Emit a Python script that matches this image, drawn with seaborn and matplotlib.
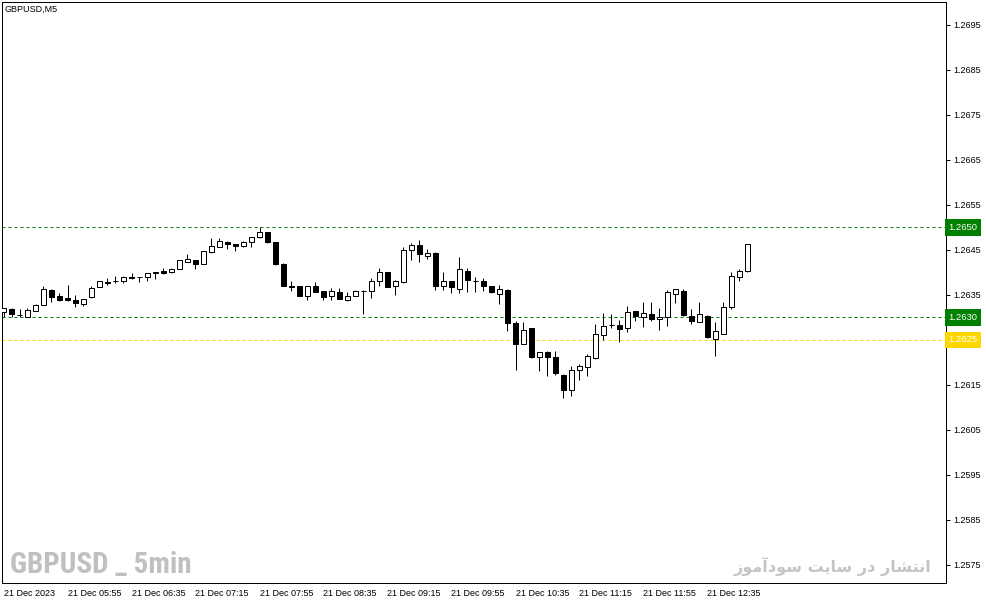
import matplotlib
matplotlib.use("Agg")
import pandas as pd
import seaborn as sns
from matplotlib import pyplot as plt

# GBPUSD M5 candles, 21 Dec 2023 05:15 -> 13:00
opens = [1.26312, 1.26319, 1.26306, 1.26301, 1.26315, 1.26327, 1.26361, 1.26347, 1.26343, 1.26339,
         1.26330, 1.26346, 1.26367, 1.26379, 1.26381, 1.26380, 1.26389, 1.26390, 1.26389, 1.26399,
         1.26404, 1.26400, 1.26407, 1.26424, 1.26427, 1.26419, 1.26446, 1.26456, 1.26467, 1.26464,
         1.26459, 1.26467, 1.26478, 1.26489, 1.26467, 1.26419, 1.26369, 1.26369, 1.26348, 1.26370,
         1.26359, 1.26347, 1.26356, 1.26339, 1.26347, 1.26359, 1.26359, 1.26381, 1.26400, 1.26371,
         1.26379, 1.26449, 1.26462, 1.26437, 1.26444, 1.26371, 1.26380, 1.26364, 1.26404, 1.26382,
         1.26380, 1.26369, 1.26353, 1.26362, 1.26287, 1.26242, 1.26276, 1.26213, 1.26224, 1.26212,
         1.26172, 1.26138, 1.26184, 1.26191, 1.26210, 1.26260, 1.26284, 1.26284, 1.26276, 1.26314,
         1.26301, 1.26307, 1.26296, 1.26301, 1.26353, 1.26358, 1.26304, 1.26290, 1.26304, 1.26253,
         1.26264, 1.26324, 1.26390, 1.26404]
highs = [1.26322, 1.26321, 1.26318, 1.26320, 1.26330, 1.26371, 1.26363, 1.26354, 1.26372, 1.26351,
         1.26342, 1.26369, 1.26380, 1.26387, 1.26392, 1.26393, 1.26399, 1.26390, 1.26398, 1.26401,
         1.26409, 1.26410, 1.26427, 1.26441, 1.26427, 1.26447, 1.26476, 1.26476, 1.26470, 1.26464,
         1.26470, 1.26479, 1.26501, 1.26490, 1.26468, 1.26421, 1.26380, 1.26370, 1.26371, 1.26379,
         1.26359, 1.26366, 1.26366, 1.26356, 1.26362, 1.26361, 1.26387, 1.26411, 1.26401, 1.26383,
         1.26456, 1.26466, 1.26472, 1.26453, 1.26445, 1.26400, 1.26381, 1.26434, 1.26410, 1.26389,
         1.26387, 1.26371, 1.26373, 1.26363, 1.26293, 1.26289, 1.26277, 1.26224, 1.26225, 1.26225,
         1.26174, 1.26192, 1.26196, 1.26218, 1.26285, 1.26309, 1.26307, 1.26294, 1.26325, 1.26315,
         1.26334, 1.26334, 1.26320, 1.26361, 1.26364, 1.26364, 1.26318, 1.26334, 1.26305, 1.26289,
         1.26334, 1.26400, 1.26407, 1.26464]
lows = [1.26300, 1.26301, 1.26301, 1.26301, 1.26314, 1.26327, 1.26335, 1.26336, 1.26337, 1.26324,
        1.26326, 1.26344, 1.26367, 1.26373, 1.26377, 1.26377, 1.26386, 1.26379, 1.26381, 1.26385,
        1.26396, 1.26399, 1.26407, 1.26424, 1.26407, 1.26418, 1.26444, 1.26456, 1.26452, 1.26448,
        1.26456, 1.26456, 1.26476, 1.26466, 1.26417, 1.26370, 1.26359, 1.26348, 1.26339, 1.26356,
        1.26339, 1.26339, 1.26340, 1.26337, 1.26347, 1.26307, 1.26344, 1.26371, 1.26368, 1.26350,
        1.26376, 1.26427, 1.26423, 1.26431, 1.26361, 1.26361, 1.26354, 1.26355, 1.26356, 1.26356,
        1.26359, 1.26355, 1.26331, 1.26270, 1.26183, 1.26241, 1.26210, 1.26181, 1.26170, 1.26173,
        1.26121, 1.26126, 1.26162, 1.26170, 1.26208, 1.26250, 1.26277, 1.26246, 1.26267, 1.26293,
        1.26279, 1.26293, 1.26273, 1.26281, 1.26333, 1.26303, 1.26285, 1.26290, 1.26255, 1.26214,
        1.26264, 1.26318, 1.26380, 1.26401]
closes = [1.26320, 1.26307, 1.26305, 1.26316, 1.26327, 1.26363, 1.26346, 1.26339, 1.26338, 1.26333,
          1.26342, 1.26366, 1.26380, 1.26377, 1.26380, 1.26389, 1.26388, 1.26389, 1.26398, 1.26401,
          1.26399, 1.26407, 1.26427, 1.26429, 1.26418, 1.26447, 1.26459, 1.26470, 1.26463, 1.26459,
          1.26467, 1.26479, 1.26489, 1.26467, 1.26418, 1.26370, 1.26368, 1.26348, 1.26369, 1.26357,
          1.26346, 1.26359, 1.26341, 1.26347, 1.26359, 1.26358, 1.26380, 1.26402, 1.26368, 1.26381,
          1.26449, 1.26462, 1.26440, 1.26444, 1.26370, 1.26380, 1.26368, 1.26407, 1.26384, 1.26381,
          1.26371, 1.26356, 1.26363, 1.26288, 1.26242, 1.26273, 1.26213, 1.26224, 1.26213, 1.26177,
          1.26138, 1.26184, 1.26192, 1.26214, 1.26264, 1.26282, 1.26283, 1.26275, 1.26313, 1.26304,
          1.26309, 1.26296, 1.26302, 1.26356, 1.26364, 1.26305, 1.26292, 1.26307, 1.26257, 1.26270,
          1.26324, 1.26393, 1.26404, 1.26464]

time_labels = ["21 Dec 2023", "21 Dec 05:55", "21 Dec 06:35", "21 Dec 07:15", "21 Dec 07:55",
               "21 Dec 08:35", "21 Dec 09:15", "21 Dec 09:55", "21 Dec 10:35", "21 Dec 11:15",
               "21 Dec 11:55", "21 Dec 12:35"]
label_bars = [0, 8, 16, 24, 32, 40, 48, 56, 64, 72, 80, 88]
price_ticks = [1.2575, 1.2585, 1.2595, 1.2605, 1.2615, 1.2635, 1.2645, 1.2655,
               1.2665, 1.2675, 1.2685, 1.2695]
levels = [1.2650, 1.2630, 1.2625]
level_colors = ["#007f00", "#007f00", "#ffd700"]

df = pd.DataFrame({"open": opens, "high": highs, "low": lows, "close": closes})
df["bar"] = range(len(df))
up = df["close"] >= df["open"]

sns.set_theme(style="white")
plt.rcParams["font.family"] = ["Liberation Sans", "DejaVu Sans"]

W, H = 987, 605
fig = plt.figure(figsize=(W / 100, H / 100), dpi=100)
ax = fig.add_axes([2 / W, 22 / H, 944 / W, 581 / H])

lw = 0.72
ax.vlines(df["bar"], df["low"], df["high"], color="black", linewidth=lw, zorder=2)
ax.bar(df["bar"][up], (df["close"] - df["open"])[up], bottom=df["open"][up], width=0.55,
       color="white", edgecolor="black", linewidth=lw, zorder=3)
ax.bar(df["bar"][~up], (df["close"] - df["open"])[~up], bottom=df["open"][~up], width=0.55,
       color="black", edgecolor="black", linewidth=lw, zorder=3)

for lvl, col in zip(levels, level_colors):
    ax.axhline(lvl, color=col, linewidth=lw, linestyle=(0, (3, 3)), zorder=1)
    ax.text(1.0025, lvl, f"{lvl:.4f}", transform=ax.get_yaxis_transform(), ha="left",
            va="center", fontsize=6.8, color="white", clip_on=False,
            bbox=dict(boxstyle="square,pad=0.4", fc=col, ec="none"))

ax.set_xlim(-0.1875, 117.8125)
ax.set_ylim(1.25710, 1.27001)

ax.set_xticks(label_bars)
ax.set_xticklabels(time_labels, ha="left")
ax.yaxis.tick_right()
ax.set_yticks(price_ticks)
ax.set_yticklabels([f"{p:.4f}" for p in price_ticks])
ax.tick_params(axis="both", which="both", labelsize=6.5, length=3, width=lw,
               direction="out", color="black", labelcolor="black", pad=2)
ax.tick_params(axis="x", pad=1.5)
ax.tick_params(axis="y", pad=2.5)
for s in ax.spines.values():
    s.set_color("black")
    s.set_linewidth(lw)
    s.set_visible(True)

fig.text(5 / W, 1 - 9 / H, "GBPUSD,M5", fontsize=6.5, va="center", ha="left", color="black")

ax.text(0.0085, 0.031, "GBPUSD _ 5min", transform=ax.transAxes, ha="left", va="center",
        fontsize=21, fontweight="bold", fontstretch="condensed", color="#c0c0c0",
        family=["Roboto Condensed", "DejaVu Sans"])

# "انتشار در سایت سودآموز" written in presentation forms, visual order
fa_text = ("\ufeaf\ufeee\ufee3\ufe81\ufea9\ufeee\ufeb3 \ufe96\ufbfe\ufe8e\ufeb3 "
           "\ufead\ufea9 \ufead\ufe8e\ufeb8\ufe98\ufee7\ufe8d")
ax.text(0.984, 0.028, fa_text, transform=ax.transAxes, ha="right", va="center",
        fontsize=11.5, fontweight="bold", color="#c4c4c4", family=["DejaVu Sans"])

fig.savefig("out.png", dpi=100, facecolor="white")
